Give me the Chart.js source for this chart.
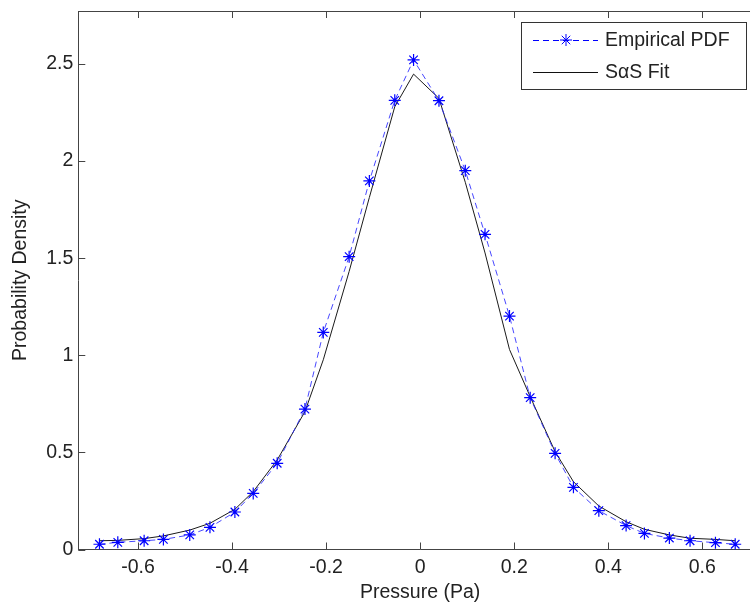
<!DOCTYPE html>
<html>
<head>
<meta charset="utf-8">
<title>Pressure PDF</title>
<script src="https://cdn.jsdelivr.net/npm/chart.js@4.4.1/dist/chart.umd.min.js"></script>
<style>
  html, body { margin: 0; padding: 0; background: #fff; overflow: hidden; }
  #wrap { width: 750px; height: 603px; overflow: hidden; }
</style>
</head>
<body>
<div id="wrap"><canvas id="pdfChart" width="770" height="603"></canvas></div>
<script>
// bin centres (Pa)
const pressure = [-0.682, -0.643, -0.587, -0.546, -0.490, -0.447, -0.394, -0.355, -0.304, -0.245,
  -0.206, -0.151, -0.108, -0.054, -0.014, 0.040, 0.096, 0.138, 0.190, 0.234,
  0.287, 0.326, 0.380, 0.438, 0.477, 0.530, 0.574, 0.628, 0.670];
const empiricalPdf = [0.027, 0.037, 0.045, 0.052, 0.075, 0.114, 0.193, 0.289, 0.444, 0.723,
  1.118, 1.508, 1.898, 2.313, 2.521, 2.311, 1.951, 1.623, 1.202, 0.782,
  0.495, 0.320, 0.200, 0.123, 0.083, 0.059, 0.045, 0.035, 0.027];
const fitPdf = [0.045, 0.047, 0.056, 0.070, 0.100, 0.135, 0.207, 0.298, 0.461, 0.710,
  0.977, 1.432, 1.813, 2.280, 2.448, 2.323, 1.891, 1.527, 1.030, 0.787,
  0.504, 0.349, 0.224, 0.143, 0.104, 0.075, 0.058, 0.052, 0.045];
const xTicks = [-0.6, -0.4, -0.2, 0, 0.2, 0.4, 0.6];
const yTicks = [0, 0.5, 1, 1.5, 2, 2.5];
const seriesNames = ["Empirical PDF", "S\u03b1S Fit"];

const FONT = { family: "'Liberation Sans', Arial, sans-serif", size: 19.5 };
const TITLE_FONT = { family: FONT.family, size: FONT.size, lineHeight: 1.05 };
const TEXT = "#222";
const AXIS = "#444";
const BLUE = "#0000ff";

const toPoints = (ys) => pressure.map((x, i) => ({ x: x, y: ys[i] }));
const fmt = (v) => String(+(+v).toFixed(2));

function drawStar(ctx, x, y, r) {
  const d = r * Math.SQRT1_2;
  ctx.beginPath();
  ctx.moveTo(x - r, y); ctx.lineTo(x + r, y);
  ctx.moveTo(x, y - r); ctx.lineTo(x, y + r);
  ctx.moveTo(x - d, y - d); ctx.lineTo(x + d, y + d);
  ctx.moveTo(x - d, y + d); ctx.lineTo(x + d, y - d);
  ctx.stroke();
}

// box around the plot with inward tick marks on every side
const framePlugin = {
  id: "frame",
  afterDraw(chart) {
    const { ctx, chartArea: a, scales } = chart;
    const len = 7;
    ctx.save();
    ctx.strokeStyle = AXIS;
    ctx.lineWidth = 1;
    ctx.beginPath();
    ctx.moveTo(a.left, a.top + 0.5); ctx.lineTo(a.right, a.top + 0.5);
    ctx.moveTo(a.right - 0.5, a.top); ctx.lineTo(a.right - 0.5, a.bottom);
    xTicks.forEach((v) => {
      const px = Math.round(scales.x.getPixelForValue(v)) + 0.5;
      ctx.moveTo(px, a.bottom); ctx.lineTo(px, a.bottom - len);
      ctx.moveTo(px, a.top); ctx.lineTo(px, a.top + len);
    });
    yTicks.forEach((v) => {
      const py = Math.round(scales.y.getPixelForValue(v)) + 0.5;
      ctx.moveTo(a.left, py); ctx.lineTo(a.left + len, py);
      ctx.moveTo(a.right, py); ctx.lineTo(a.right - len, py);
    });
    ctx.stroke();
    ctx.restore();
  },
};

// legend box in the upper right corner
const legendPlugin = {
  id: "boxLegend",
  afterDraw(chart) {
    const { ctx } = chart;
    const bx = 521.5, by = 22.5, bw = 225, bh = 67;
    const rows = [40, 72];
    ctx.save();
    ctx.fillStyle = "#fff";
    ctx.fillRect(bx, by, bw, bh);
    ctx.strokeStyle = "#333";
    ctx.lineWidth = 1;
    ctx.strokeRect(bx, by, bw, bh);

    ctx.strokeStyle = BLUE;
    ctx.setLineDash([6, 4]);
    ctx.beginPath();
    ctx.moveTo(533, rows[0] + 0.5); ctx.lineTo(598, rows[0] + 0.5);
    ctx.stroke();
    ctx.setLineDash([]);
    drawStar(ctx, 566, rows[0], 6);

    ctx.strokeStyle = "#111";
    ctx.beginPath();
    ctx.moveTo(533, rows[1] + 0.5); ctx.lineTo(598, rows[1] + 0.5);
    ctx.stroke();

    ctx.fillStyle = TEXT;
    ctx.font = FONT.size + "px " + FONT.family;
    ctx.textBaseline = "middle";
    ctx.textAlign = "left";
    ctx.fillText(seriesNames[0], 605, rows[0] + 1);
    ctx.fillText(seriesNames[1], 605, rows[1] + 1);
    ctx.restore();
  },
};

new Chart(document.getElementById("pdfChart"), {
  type: "scatter",
  data: {
    datasets: [
      {
        label: seriesNames[0],
        data: toPoints(empiricalPdf),
        showLine: true,
        borderColor: "rgba(40,40,255,0.85)",
        borderWidth: 1,
        borderDash: [6, 4],
        pointStyle: "star",
        pointRadius: 6,
        pointBorderColor: BLUE,
        pointBackgroundColor: BLUE,
        pointBorderWidth: 1.2,
      },
      {
        label: seriesNames[1],
        data: toPoints(fitPdf),
        showLine: true,
        borderColor: "#1a1a1a",
        borderWidth: 1,
        pointRadius: 0,
      },
    ],
  },
  options: {
    responsive: false,
    animation: false,
    devicePixelRatio: 1,
    layout: { padding: { top: 11, right: 8, left: 0, bottom: 0 } },
    plugins: { legend: { display: false }, tooltip: { enabled: false } },
    scales: {
      x: {
        type: "linear",
        min: -0.727,
        max: 0.727,
        grid: { display: false, drawTicks: false },
        border: { display: true, color: AXIS },
        afterBuildTicks: (s) => { s.ticks = xTicks.map((v) => ({ value: v })); },
        afterFit: (s) => { s.height = 53.5; s.paddingLeft = 0; s.paddingRight = 0; },
        ticks: { color: TEXT, font: FONT, padding: 6, callback: fmt, maxRotation: 0 },
        title: { display: true, text: "Pressure (Pa)", color: TEXT, font: TITLE_FONT, padding: { top: 0, bottom: 0 } },
      },
      y: {
        min: 0,
        max: 2.773,
        grid: { display: false, drawTicks: false },
        border: { display: true, color: AXIS },
        afterBuildTicks: (s) => { s.ticks = yTicks.map((v) => ({ value: v })); },
        afterFit: (s) => { s.width = 78.3; s.paddingTop = 0; s.paddingBottom = 0; },
        ticks: { color: TEXT, font: FONT, padding: 5, callback: fmt },
        title: { display: true, text: "Probability Density", color: TEXT, font: TITLE_FONT, padding: { top: 10, bottom: 0 } },
      },
    },
  },
  plugins: [framePlugin, legendPlugin],
});
</script>
</body>
</html>
